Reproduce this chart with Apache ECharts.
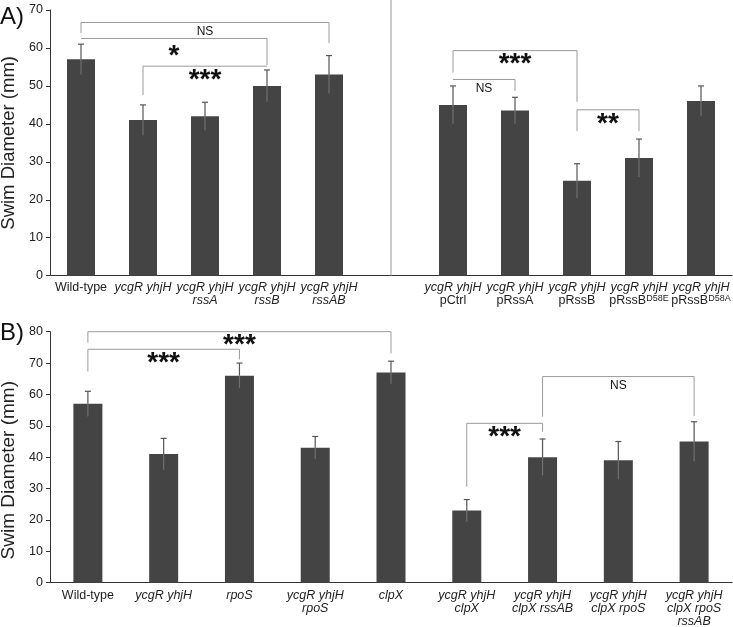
<!DOCTYPE html>
<html>
<head>
<meta charset="utf-8">
<script src="https://cdn.jsdelivr.net/npm/echarts@6/dist/echarts.min.js"></script>
<style>
  html, body { margin: 0; padding: 0; background: #fff; }
  #chart { width: 733px; height: 627px; }
</style>
</head>
<body>
<div id="chart"></div>
<script>
const FONT = '"Liberation Sans", Arial, sans-serif'

// Panel A: swim diameter (mm); empty slot at index 5 holds the divider line
const catsA = [
  'Wild-type', 'ycgR yhjH', 'ycgR yhjH\nrssA', 'ycgR yhjH\nrssB', 'ycgR yhjH\nrssAB', '',
  'ycgR yhjH\npCtrl', 'ycgR yhjH\npRssA', 'ycgR yhjH\npRssB', 'ycgR yhjH\npRssB^D58E', 'ycgR yhjH\npRssB^D58A',
]
const meanA = [57, 41, 42, 50, 53, null, 45, 43.5, 25, 31, 46]
const errA = [4, 4, 3.7, 4.2, 5, null, 5, 3.5, 4.5, 5, 4]
// [from, to, level, left leg end, right leg end, text]
const bracketsA = [
  [0, 4, 66.7, 63.9, 61.3, 'NS'],
  [0, 3, 62.5, 62.5, 55.5, '*'],
  [1, 3, 55.2, 47.6, 55.2, '***'],
  [6, 8, 59.3, 53.5, 45.8, '***'],
  [6, 7, 51.7, 51.7, 48.7, 'NS'],
  [8, 9, 43.7, 38.1, 38.1, '**'],
]
const dividerA = [5]

// Panel B
const catsB = [
  'Wild-type', 'ycgR yhjH', 'rpoS', 'ycgR yhjH\nrpoS', 'clpX',
  'ycgR yhjH\nclpX', 'ycgR yhjH\nclpX rssAB', 'ycgR yhjH\nclpX rpoS', 'ycgR yhjH\nclpX rpoS\nrssAB',
]
const meanB = [57, 41, 66, 43, 67, 23, 40, 39, 45]
const errB = [4, 5, 4, 3.6, 3.6, 3.5, 5.8, 6, 6.3]
const bracketsB = [
  [0, 4, 80, 76.5, 73.1, '***'],
  [0, 2, 74.4, 67.3, 71.2, '***'],
  [5, 6, 50.8, 30.6, 48.1, '***'],
  [6, 8, 65.7, 52.9, 53.1, 'NS'],
]

function fmtLabel(name) {
  return name.split('\n').map((line) => {
    if (!line) return ''
    if (line === 'Wild-type') return '{n|Wild-type}'
    if (line[0] === 'p') {
      const [base, sup] = line.split('^')
      return '{n|' + base + '}' + (sup ? '{s|' + sup + '}' : '')
    }
    return '{i|' + line + '}'
  }).join('\n')
}

const labelRich = {
  n: { fontFamily: FONT, fontSize: 12.5, color: '#222', lineHeight: 13 },
  i: { fontFamily: FONT, fontSize: 12.5, color: '#222', lineHeight: 13, fontStyle: 'italic' },
  s: { fontFamily: FONT, fontSize: 9, color: '#222', lineHeight: 9, verticalAlign: 'top' },
}

function errorItem(params, api) {
  const i = api.value(0)
  const v = api.value(1)
  const e = api.value(2)
  const top = api.coord([i, v + e])
  const mid = api.coord([i, v])
  const bot = api.coord([i, v - e])
  return {
    type: 'group',
    children: [
      { type: 'line', shape: { x1: top[0], y1: top[1], x2: mid[0], y2: mid[1] }, style: { stroke: '#555', lineWidth: 1.2 } },
      { type: 'line', shape: { x1: mid[0], y1: mid[1], x2: bot[0], y2: bot[1] }, style: { stroke: '#707070', lineWidth: 1.2 } },
      { type: 'line', shape: { x1: top[0] - 3, y1: top[1], x2: top[0] + 3, y2: top[1] }, style: { stroke: '#555', lineWidth: 1.2 } },
    ],
  }
}

function bracketItem(list) {
  return (params, api) => {
    const [a, b, lvl, l1, l2, text] = list[params.dataIndex]
    const p1 = api.coord([a, lvl])
    const p2 = api.coord([b, lvl])
    const e1 = api.coord([a, l1])
    const e2 = api.coord([b, l2])
    const star = text[0] === '*'
    const dy = (text === '*' ? 13 : 9) + (star ? 5 : 0)
    return {
      type: 'group',
      children: [
        {
          type: 'polyline',
          shape: { points: [e1, p1, p2, e2] },
          style: { stroke: '#9a9a9a', lineWidth: 1, fill: null },
        },
        {
          type: 'text',
          x: (p1[0] + p2[0]) / 2,
          y: p1[1] + dy,
          style: {
            text,
            align: 'center',
            verticalAlign: 'middle',
            fill: '#111',
            font: star ? 'bold 28px ' + FONT : '12px ' + FONT,
          },
        },
      ],
    }
  }
}

function errData(means, errs) {
  return means.map((v, i) => (v == null ? null : [i, v, errs[i]])).filter(Boolean)
}

function xAxisFor(cats, gridIndex, margin) {
  return {
    type: 'category',
    gridIndex,
    data: cats,
    axisLine: { lineStyle: { color: '#333', width: 1 } },
    axisTick: { alignWithLabel: true, length: 3, lineStyle: { color: '#333' } },
    axisLabel: { interval: 0, margin, formatter: fmtLabel, rich: labelRich },
  }
}

function yAxisFor(max, gridIndex, nameSize, nameGap, padding) {
  return {
    type: 'value',
    gridIndex,
    min: 0,
    max,
    interval: 10,
    name: 'Swim Diameter (mm)',
    nameLocation: 'middle',
    nameGap,
    nameTextStyle: { fontFamily: FONT, fontSize: nameSize, color: '#222', padding },
    splitLine: { show: false },
    axisLine: { show: true, lineStyle: { color: '#333', width: 1 } },
    axisTick: { show: true, length: 4, lineStyle: { color: '#333' } },
    axisLabel: { fontFamily: FONT, fontSize: 12.5, color: '#222', margin: 7 },
  }
}

const chart = echarts.init(document.getElementById('chart'))
chart.setOption({
  animation: false,
  backgroundColor: '#fff',
  grid: [
    { left: 50, right: 1, top: 10, height: 265.7, outerBoundsMode: 'none', containLabel: false },
    { left: 50, right: 1, top: 331.7, height: 251, outerBoundsMode: 'none', containLabel: false },
  ],
  xAxis: [xAxisFor(catsA, 0, 5), xAxisFor(catsB, 1, 6)],
  yAxis: [yAxisFor(70, 0, 18.5, 30, 0), yAxisFor(80, 1, 19, 26, [0, 26, 0, 0])],
  graphic: [
    { type: 'text', left: 0, top: 5, style: { text: 'A)', font: '24px ' + FONT, fill: '#111' } },
    { type: 'text', left: 0, top: 321, style: { text: 'B)', font: '24px ' + FONT, fill: '#111' } },
  ],
  series: [
    {
      type: 'bar', xAxisIndex: 0, yAxisIndex: 0, data: meanA, barWidth: 28,
      itemStyle: { color: '#444' },
    },
    {
      type: 'custom', xAxisIndex: 0, yAxisIndex: 0, z: 3,
      data: errData(meanA, errA), renderItem: errorItem,
    },
    {
      type: 'custom', xAxisIndex: 0, yAxisIndex: 0, z: 3,
      data: bracketsA.map((b) => [b[0], b[2]]), renderItem: bracketItem(bracketsA),
    },
    {
      type: 'custom', xAxisIndex: 0, yAxisIndex: 0, z: 3,
      data: dividerA.map((i) => [i, 0]),
      renderItem: (params, api) => {
        const p = api.coord([api.value(0), 0])
        return { type: 'line', shape: { x1: p[0], y1: 0, x2: p[0], y2: p[1] }, style: { stroke: '#999', lineWidth: 1 } }
      },
    },
    {
      type: 'bar', xAxisIndex: 1, yAxisIndex: 1, data: meanB, barWidth: 29,
      itemStyle: { color: '#444' },
    },
    {
      type: 'custom', xAxisIndex: 1, yAxisIndex: 1, z: 3,
      data: errData(meanB, errB), renderItem: errorItem,
    },
    {
      type: 'custom', xAxisIndex: 1, yAxisIndex: 1, z: 3,
      data: bracketsB.map((b) => [b[0], b[2]]), renderItem: bracketItem(bracketsB),
    },
  ],
})
</script>
</body>
</html>
